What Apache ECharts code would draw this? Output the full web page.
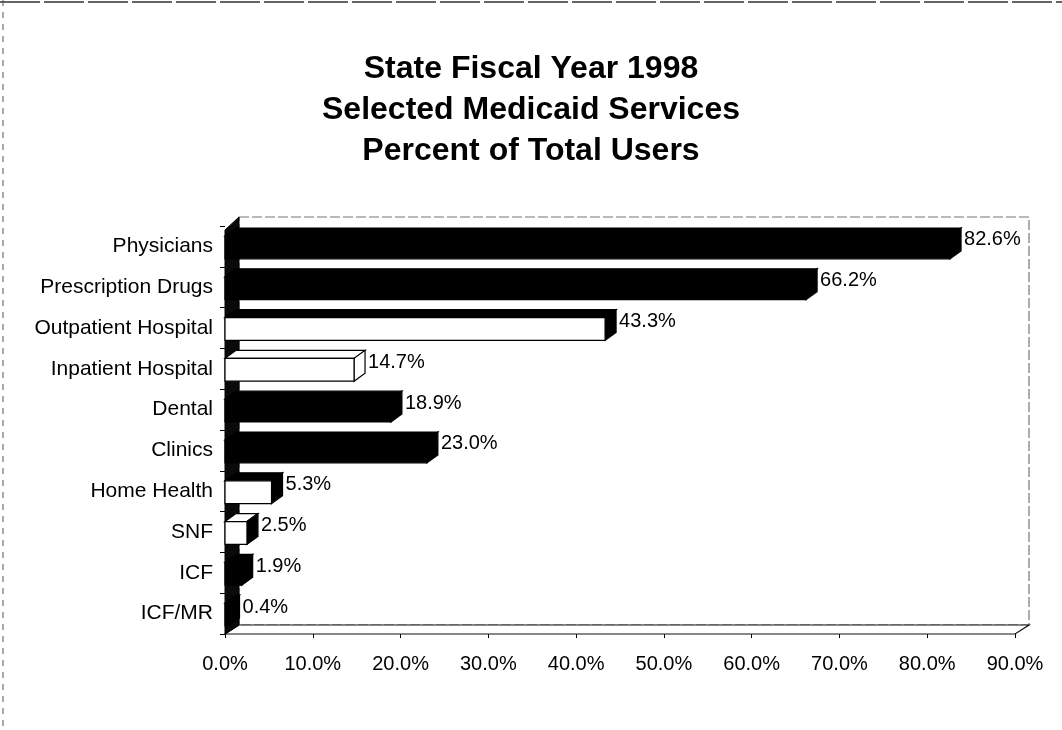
<!DOCTYPE html>
<html>
<head>
<meta charset="utf-8">
<script src="https://cdn.jsdelivr.net/npm/echarts@6/dist/echarts.min.js"></script>
<style>html,body{margin:0;padding:0;background:#fff}#c{width:1062px;height:730px}</style>
</head>
<body>
<div id="c"></div>
<script>
const categories = ['Physicians','Prescription Drugs','Outpatient Hospital','Inpatient Hospital','Dental','Clinics','Home Health','SNF','ICF','ICF/MR'];
const values = [82.6, 66.2, 43.3, 14.7, 18.9, 23.0, 5.3, 2.5, 1.9, 0.4];
const frontFill = ['#000','#000','#fff','#fff','#000','#000','#fff','#fff','#000','#000'];
const sideFill  = ['#000','#000','#000','#fff','#000','#000','#000','#000','#000','#000'];
const topFill   = ['#000','#000','#000','#fff','#000','#000','#000','#fff','#000','#000'];
const xTicks = [0,10,20,30,40,50,60,70,80,90];

const FONT = '"Liberation Sans", Arial, sans-serif';
const WDX = 14, WDY = -9;   // wall depth
const BDX = 11, BDY = -8;   // bar depth

const chart = echarts.init(document.getElementById('c'), null, {renderer:'canvas'});

function frameItem(params, api) {
  const band = api.size([0, 1])[1];
  const pTop = api.coord([0, 0]);
  const pBot = api.coord([xTicks[xTicks.length-1], categories.length - 1]);
  const left = pTop[0], top = pTop[1] - band/2;
  const right = pBot[0], bottom = pBot[1] + band/2;
  return {
    type: 'group',
    children: [
      { type: 'rect', shape: {x: left + WDX, y: top + WDY, width: right - left, height: bottom - top},
        style: {fill: '#fff', stroke: '#777', lineWidth: 1.2, lineDash: [10, 3]} },
      { type: 'polygon', shape: {points: [[left, bottom], [left + WDX, bottom + WDY], [right + WDX, bottom + WDY], [right, bottom]]},
        style: {fill: '#fff', stroke: '#111', lineWidth: 1.2} },
      { type: 'polygon', shape: {points: [[left, top + 4], [left + WDX, top + WDY], [left + WDX, bottom + WDY], [left, bottom]]},
        style: {fill: '#0a0a0a', stroke: '#000', lineWidth: 1} }
    ]
  };
}

function barItem(params, api) {
  const idx = api.value(0);
  const val = api.value(1);
  const p0 = api.coord([0, idx]);
  const p1 = api.coord([val, idx]);
  const band = api.size([0, 1])[1];
  const h = band * 0.56;
  const y = p0[1] - h/2 + 1;
  const x0 = p0[0], x1 = p1[0];
  const st = {stroke: '#000', lineWidth: 1.2};
  return {
    type: 'group',
    children: [
      { type: 'polygon', shape: {points: [[x0, y], [x0 + BDX, y + BDY], [x1 + BDX, y + BDY], [x1, y]]},
        style: Object.assign({fill: topFill[idx]}, st) },
      { type: 'polygon', shape: {points: [[x1, y], [x1 + BDX, y + BDY], [x1 + BDX, y + BDY + h], [x1, y + h]]},
        style: Object.assign({fill: sideFill[idx]}, st) },
      { type: 'rect', shape: {x: x0, y: y, width: x1 - x0, height: h},
        style: Object.assign({fill: frontFill[idx]}, st) },
      { type: 'text', x: x1 + BDX + 3, y: y + 4,
        style: {text: val.toFixed(1) + '%', fill: '#000', font: '20px ' + FONT, textAlign: 'left', textVerticalAlign: 'middle'} }
    ]
  };
}

chart.setOption({
  backgroundColor: '#fff',
  animation: false,
  title: {
    text: 'State Fiscal Year 1998\nSelected Medicaid Services\nPercent of Total Users',
    left: 'center', top: 44,
    textStyle: {fontFamily: FONT, fontSize: 32, fontWeight: 'bold', color: '#000', lineHeight: 41}
  },
  grid: {left: 225, right: 47, top: 226, bottom: 96, containLabel: false},
  xAxis: {
    type: 'value', min: 0, max: 90, interval: 10,
    axisLine: {show: false},
    axisTick: {show: true, length: 4, lineStyle: {color: '#000'}},
    splitLine: {show: false},
    axisLabel: {margin: 20, color: '#000', fontFamily: FONT, fontSize: 20,
      formatter: v => v.toFixed(1) + '%'}
  },
  yAxis: {
    type: 'category', data: categories, inverse: true,
    axisLine: {show: false},
    axisTick: {show: true, length: 5, lineStyle: {color: '#000'}},
    axisLabel: {margin: 12, color: '#000', fontFamily: FONT, fontSize: 21}
  },
  series: [
    { type: 'custom', z: 1, renderItem: frameItem, data: [[0, 0]], silent: true },
    { type: 'custom', z: 2, renderItem: barItem,
      encode: {x: 1, y: 0},
      data: values.map((v, i) => [i, v]) }
  ],
  graphic: [
    {type: 'line', shape: {x1: 0, y1: 2, x2: 1062, y2: 2}, style: {stroke: '#333', lineWidth: 1.5, lineDash: [40, 4]}},
    {type: 'line', shape: {x1: 3, y1: 0, x2: 3, y2: 730}, style: {stroke: '#555', lineWidth: 1, lineDash: [6, 6]}}
  ]
});
</script>
</body>
</html>
